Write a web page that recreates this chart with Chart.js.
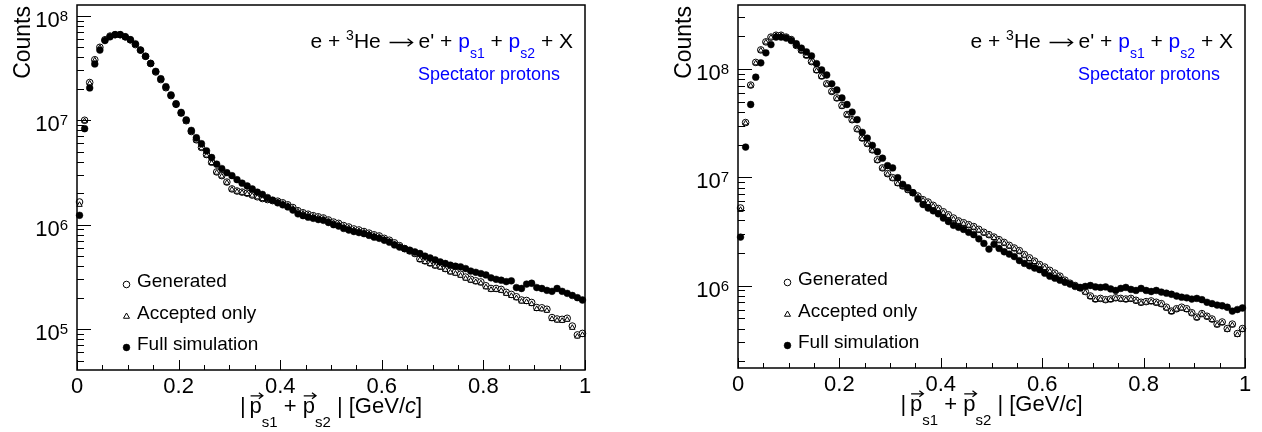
<!DOCTYPE html>
<html>
<head>
<meta charset="utf-8">
<script src="https://cdn.jsdelivr.net/npm/chart.js@4.4.1/dist/chart.umd.min.js"></script>
<style>
    html, body { margin: 0; padding: 0; background: #fff; }
    #wrap { position: relative; width: 1262px; height: 432px; }
    .panel { position: absolute; top: 0; width: 631px; height: 432px; }
</style>
</head>
<body>
<div id="wrap">
    <div class="panel" style="left:0"><canvas id="chartA" width="631" height="432"></canvas></div>
    <div class="panel" style="left:631px"><canvas id="chartB" width="631" height="432"></canvas></div>
</div>
<script>
// =======================
// DATOS (100 bins, 0 - 1 GeV/c)
// =======================

const N_BINS = 100;
const X_MIN = 0;
const X_MAX = 1;

const xTickValues = [0, 0.2, 0.4, 0.6, 0.8, 1];
const xTickLabels = ["0", "0.2", "0.4", "0.6", "0.8", "1"];
const xMinorStep = 0.05;

const leftYRange = [4.06e4, 1.27e8];
const leftYExponents = [5, 6, 7, 8];
const rightYRange = [1.73e5, 3.9e8];
const rightYExponents = [6, 7, 8];

const seriesLabels = ["Generated", "Accepted only", "Full simulation"];

const leftGenerated = [
    1.65e6, 1.0e7, 2.3e7, 3.8e7, 5.0e7, 5.9e7, 6.4e7, 6.6e7, 6.6e7, 6.3e7,
    5.9e7, 5.3e7, 4.7e7, 4.1e7, 3.5e7, 2.9e7, 2.45e7, 2.05e7, 1.72e7, 1.42e7,
    1.17e7, 9.9e6, 7.8e6, 6.5e6, 5.5e6, 4.7e6, 3.96e6, 3.2e6, 2.95e6, 2.56e6,
    2.2e6, 2.1e6, 2.05e6, 2.0e6, 1.92e6, 1.85e6, 1.78e6, 1.74e6, 1.7e6, 1.68e6,
    1.62e6, 1.55e6, 1.46e6, 1.36e6, 1.3e6, 1.26e6, 1.22e6, 1.19e6, 1.16e6, 1.11e6,
    1.06e6, 1.03e6, 9.8e5, 9.5e5, 9.1e5, 8.9e5, 8.6e5, 8.3e5, 8.0e5, 7.8e5,
    7.4e5, 7.1e5, 6.7e5, 6.3e5, 5.9e5, 5.6e5, 5.3e5, 4.7e5, 4.5e5, 4.3e5,
    4.1e5, 4.0e5, 3.8e5, 3.6e5, 3.5e5, 3.35e5, 3.15e5, 3.0e5, 2.9e5, 2.83e5,
    2.6e5, 2.45e5, 2.45e5, 2.4e5, 2.25e5, 2.15e5, 2.04e5, 1.9e5, 1.88e5, 1.8e5,
    1.61e5, 1.6e5, 1.55e5, 1.29e5, 1.25e5, 1.24e5, 1.27e5, 1.07e5, 8.8e4, 9.1e4
];

const leftAccepted = [
    1.55e6, 9.8e6, 2.25e7, 3.75e7, 4.95e7, 5.85e7, 6.35e7, 6.55e7, 6.55e7, 6.25e7,
    5.85e7, 5.25e7, 4.65e7, 4.05e7, 3.45e7, 2.88e7, 2.42e7, 2.02e7, 1.7e7, 1.4e7,
    1.15e7, 9.7e6, 7.7e6, 6.4e6, 5.4e6, 4.6e6, 3.9e6, 3.15e6, 2.9e6, 2.52e6,
    2.17e6, 2.07e6, 2.02e6, 1.97e6, 1.9e6, 1.83e6, 1.76e6, 1.72e6, 1.68e6, 1.65e6,
    1.59e6, 1.52e6, 1.43e6, 1.34e6, 1.28e6, 1.24e6, 1.2e6, 1.17e6, 1.14e6, 1.09e6,
    1.04e6, 1.01e6, 9.6e5, 9.3e5, 8.9e5, 8.7e5, 8.45e5, 8.15e5, 7.85e5, 7.65e5,
    7.25e5, 6.95e5, 6.55e5, 6.15e5, 5.8e5, 5.5e5, 5.2e5, 4.6e5, 4.4e5, 4.2e5,
    4.0e5, 3.9e5, 3.7e5, 3.5e5, 3.4e5, 3.25e5, 3.05e5, 2.92e5, 2.82e5, 2.75e5,
    2.52e5, 2.38e5, 2.38e5, 2.33e5, 2.18e5, 2.08e5, 1.98e5, 1.84e5, 1.82e5, 1.74e5,
    1.56e5, 1.55e5, 1.5e5, 1.25e5, 1.21e5, 1.2e5, 1.23e5, 1.03e5, 8.5e4, 8.8e4
];

const leftFull = [
    1.23e6, 8.3e6, 2.04e7, 3.46e7, 4.7e7, 5.8e7, 6.3e7, 6.6e7, 6.6e7, 6.3e7,
    5.9e7, 5.4e7, 4.7e7, 4.1e7, 3.5e7, 2.94e7, 2.5e7, 2.1e7, 1.75e7, 1.44e7,
    1.19e7, 1.01e7, 8.0e6, 6.8e6, 5.96e6, 5.1e6, 4.4e6, 3.8e6, 3.45e6, 3.15e6,
    2.95e6, 2.7e6, 2.5e6, 2.35e6, 2.2e6, 2.05e6, 1.95e6, 1.82e6, 1.72e6, 1.62e6,
    1.55e6, 1.48e6, 1.38e6, 1.27e6, 1.22e6, 1.18e6, 1.15e6, 1.12e6, 1.1e6, 1.05e6,
    1.0e6, 9.7e5, 9.2e5, 8.9e5, 8.6e5, 8.4e5, 8.2e5, 7.9e5, 7.6e5, 7.4e5,
    7.1e5, 6.8e5, 6.4e5, 6.1e5, 5.9e5, 5.7e5, 5.5e5, 5.3e5, 5.0e5, 4.8e5,
    4.6e5, 4.4e5, 4.25e5, 4.1e5, 4.0e5, 3.95e5, 3.8e5, 3.6e5, 3.5e5, 3.4e5,
    3.3e5, 3.1e5, 3.0e5, 2.94e5, 2.85e5, 2.9e5, 2.5e5, 2.45e5, 2.7e5, 2.75e5,
    2.5e5, 2.45e5, 2.35e5, 2.3e5, 2.45e5, 2.3e5, 2.2e5, 2.1e5, 2.0e5, 1.9e5
];

const rightGenerated = [
    5.2e6, 3.2e7, 7.1e7, 1.15e8, 1.5e8, 1.78e8, 1.97e8, 2.05e8, 2.05e8, 1.97e8,
    1.87e8, 1.65e8, 1.49e8, 1.34e8, 1.17e8, 9.8e7, 8.6e7, 7.3e7, 6.2e7, 5.4e7,
    4.6e7, 3.8e7, 3.4e7, 2.8e7, 2.3e7, 2.05e7, 1.79e7, 1.45e7, 1.22e7, 1.08e7,
    9.9e6, 8.9e6, 8.3e6, 7.7e6, 7.2e6, 6.7e6, 6.2e6, 5.9e6, 5.5e6, 5.15e6,
    4.8e6, 4.5e6, 4.2e6, 3.95e6, 3.8e6, 3.65e6, 3.5e6, 3.3e6, 3.1e6, 2.95e6,
    2.8e6, 2.65e6, 2.5e6, 2.35e6, 2.22e6, 2.1e6, 1.93e6, 1.8e6, 1.68e6, 1.56e6,
    1.48e6, 1.38e6, 1.3e6, 1.22e6, 1.12e6, 1.05e6, 1.0e6, 9.5e5, 8.8e5, 8.0e5,
    7.5e5, 7.6e5, 7.4e5, 7.5e5, 7.7e5, 7.6e5, 7.5e5, 7.6e5, 7.3e5, 7.0e5,
    7.1e5, 7.2e5, 7.0e5, 6.8e5, 6.3e5, 5.8e5, 6.1e5, 6.3e5, 6.1e5, 5.6e5,
    5.1e5, 5.5e5, 5.2e5, 4.9e5, 4.4e5, 4.6e5, 4.0e5, 4.4e5, 3.6e5, 4.0e5
];

const rightAccepted = [
    5.0e6, 3.15e7, 7.0e7, 1.13e8, 1.48e8, 1.76e8, 1.95e8, 2.03e8, 2.03e8, 1.95e8,
    1.85e8, 1.63e8, 1.47e8, 1.32e8, 1.15e8, 9.6e7, 8.45e7, 7.2e7, 6.1e7, 5.3e7,
    4.5e7, 3.75e7, 3.35e7, 2.75e7, 2.26e7, 2.01e7, 1.76e7, 1.42e7, 1.2e7, 1.06e7,
    9.7e6, 8.7e6, 8.15e6, 7.55e6, 7.05e6, 6.55e6, 6.1e6, 5.8e6, 5.4e6, 5.05e6,
    4.7e6, 4.4e6, 4.1e6, 3.88e6, 3.72e6, 3.58e6, 3.43e6, 3.23e6, 3.04e6, 2.9e6,
    2.75e6, 2.6e6, 2.45e6, 2.3e6, 2.18e6, 2.06e6, 1.89e6, 1.76e6, 1.65e6, 1.53e6,
    1.45e6, 1.35e6, 1.27e6, 1.2e6, 1.1e6, 1.03e6, 9.8e5, 9.3e5, 8.6e5, 7.85e5,
    7.35e5, 7.45e5, 7.25e5, 7.35e5, 7.55e5, 7.45e5, 7.35e5, 7.45e5, 7.15e5, 6.85e5,
    6.95e5, 7.05e5, 6.85e5, 6.65e5, 6.15e5, 5.7e5, 6.0e5, 6.15e5, 5.95e5, 5.5e5,
    5.0e5, 5.4e5, 5.1e5, 4.8e5, 4.3e5, 4.5e5, 3.9e5, 4.3e5, 3.5e5, 3.9e5
];

const rightFull = [
    2.8e6, 1.9e7, 4.7e7, 8.4e7, 1.14e8, 1.41e8, 1.68e8, 1.97e8, 1.97e8, 1.93e8,
    1.83e8, 1.71e8, 1.56e8, 1.44e8, 1.32e8, 1.12e8, 9.8e7, 8.8e7, 7.3e7, 6.4e7,
    5.4e7, 4.7e7, 4.0e7, 3.4e7, 2.6e7, 2.3e7, 1.97e7, 1.72e7, 1.5e7, 1.28e7,
    1.22e7, 9.9e6, 8.6e6, 8.0e6, 7.2e6, 6.3e6, 5.6e6, 5.2e6, 4.9e6, 4.6e6,
    4.2e6, 3.9e6, 3.6e6, 3.45e6, 3.3e6, 3.1e6, 2.95e6, 2.7e6, 2.45e6, 2.17e6,
    2.4e6, 2.2e6, 2.05e6, 1.95e6, 1.85e6, 1.7e6, 1.6e6, 1.52e6, 1.45e6, 1.4e6,
    1.3e6, 1.22e6, 1.17e6, 1.12e6, 1.07e6, 1.03e6, 9.8e5, 9.6e5, 9.8e5, 1.0e6,
    9.7e5, 9.6e5, 9.7e5, 9.3e5, 9.0e5, 9.4e5, 9.6e5, 9.2e5, 9.0e5, 9.4e5,
    9.0e5, 8.8e5, 9.0e5, 8.7e5, 8.5e5, 8.3e5, 8.0e5, 7.8e5, 7.7e5, 7.5e5,
    7.6e5, 7.4e5, 7.0e5, 6.8e5, 6.6e5, 6.5e5, 6.3e5, 5.8e5, 6.0e5, 6.2e5
];

// =======================
// ESTILO
// =======================

const FONT = "'Liberation Sans', Arial, Helvetica, sans-serif";
const BLUE = "#0000ff";

const binWidth = (X_MAX - X_MIN) / N_BINS;
const binCenters = Array.from({ length: N_BINS }, (_, i) => X_MIN + (i + 0.5) * binWidth);

function toPoints(values) {
    return values.map((v, i) => ({ x: binCenters[i], y: v }));
}

function setFont(ctx, size, italic) {
    ctx.font = (italic ? "italic " : "") + size + "px " + FONT;
}

function arrowLine(ctx, x0, x1, y, head) {
    ctx.strokeStyle = "#000";
    ctx.lineWidth = 1.3;
    ctx.beginPath();
    ctx.moveTo(x0, y); ctx.lineTo(x1, y);
    ctx.moveTo(x1 - head, y - head * 0.75); ctx.lineTo(x1, y); ctx.lineTo(x1 - head, y + head * 0.75);
    ctx.stroke();
}

// dibuja una fila de segmentos tipo TLatex (sub/superíndices, flechas)
function drawSegments(ctx, segs, x, baseline, align) {
    let total = 0;
    segs.forEach(s => {
        setFont(ctx, s.size, s.italic);
        s.w = s.gap !== undefined ? s.gap : ctx.measureText(s.t).width;
        total += s.w;
    });
    let cx = align === "right" ? x - total : align === "center" ? x - total / 2 : x;
    ctx.textAlign = "left";
    ctx.textBaseline = "alphabetic";
    segs.forEach(s => {
        if (s.gap === undefined) {
            setFont(ctx, s.size, s.italic);
            ctx.fillStyle = s.color || "#000";
            ctx.fillText(s.t, cx, baseline + (s.dy || 0));
            if (s.arrow) {
                arrowLine(ctx, cx + 1, cx + s.w + 1, baseline - s.size * 0.78, 4);
            }
        } else if (s.rightArrow) {
            arrowLine(ctx, cx + 3, cx + s.w - 6, baseline - 5.5, 5);
        }
        cx += s.w;
    });
}

function drawMarker(ctx, ds, x, y) {
    ctx.save();
    ctx.fillStyle = ds.backgroundColor;
    ctx.strokeStyle = ds.borderColor;
    ctx.lineWidth = ds.borderWidth;
    ctx.beginPath();
    if (ds.pointStyle === "triangle") {
        const r = ds.pointRadius + 0.4;
        ctx.moveTo(x, y - r);
        ctx.lineTo(x + r * 0.866, y + r * 0.5);
        ctx.lineTo(x - r * 0.866, y + r * 0.5);
        ctx.closePath();
    } else {
        ctx.arc(x, y, ds.pointRadius, 0, Math.PI * 2);
    }
    ctx.fill();
    ctx.stroke();
    ctx.restore();
}

const rootFrame = {
    id: "rootFrame",
    afterDatasetsDraw(chart, args, opts) {
        const { ctx, chartArea: a, scales } = chart;
        const xs = scales.x, ys = scales.y;
        ctx.save();

        // marco
        ctx.strokeStyle = "#000";
        ctx.lineWidth = 1.5;
        ctx.strokeRect(a.left, a.top, a.right - a.left, a.bottom - a.top);

        // ticks eje x (hacia adentro)
        ctx.lineWidth = 1;
        const nMinor = Math.round((X_MAX - X_MIN) / xMinorStep);
        for (let k = 0; k <= nMinor; k++) {
            const px = Math.round(xs.getPixelForValue(X_MIN + k * xMinorStep)) + 0.5;
            const len = k % 4 === 0 ? 10 : 5;
            ctx.beginPath();
            ctx.moveTo(px, a.bottom);
            ctx.lineTo(px, a.bottom - len);
            ctx.stroke();
        }

        // ticks eje y logarítmico
        const dMin = Math.floor(Math.log10(ys.min));
        const dMax = Math.ceil(Math.log10(ys.max));
        for (let d = dMin; d <= dMax; d++) {
            for (let m = 1; m <= 9; m++) {
                const v = m * Math.pow(10, d);
                if (v < ys.min || v > ys.max) continue;
                const py = Math.round(ys.getPixelForValue(v)) + 0.5;
                const len = m === 1 ? 14 : 7;
                ctx.beginPath();
                ctx.moveTo(a.left, py);
                ctx.lineTo(a.left + len, py);
                ctx.stroke();
            }
        }

        // etiquetas eje x
        ctx.fillStyle = "#000";
        setFont(ctx, 22);
        ctx.textAlign = "center";
        ctx.textBaseline = "alphabetic";
        xTickValues.forEach((v, i) => {
            ctx.fillText(xTickLabels[i], xs.getPixelForValue(v), a.bottom + 22.5);
        });

        // etiquetas eje y: 10^n
        opts.exponents.forEach(e => {
            const py = ys.getPixelForValue(Math.pow(10, e));
            drawSegments(ctx, [
                { t: "10", size: 22 },
                { t: String(e), size: 15, dy: -6 }
            ], a.left - 9, py + 11, "right");
        });

        // título eje y
        ctx.save();
        ctx.translate(a.left - 47, a.top + 1);
        ctx.rotate(-Math.PI / 2);
        setFont(ctx, 23);
        ctx.textAlign = "right";
        ctx.textBaseline = "alphabetic";
        ctx.fillStyle = "#000";
        ctx.fillText("Counts", 0, 0);
        ctx.restore();

        // título eje x
        drawSegments(ctx, [
            { t: "|", size: 22 },
            { gap: 4 },
            { t: "p", size: 22, arrow: true },
            { t: "s1", size: 15, dy: 14 },
            { t: " + ", size: 22 },
            { t: "p", size: 22, arrow: true },
            { t: "s2", size: 15, dy: 14 },
            { t: " | [GeV/", size: 22 },
            { t: "c", size: 22, italic: true },
            { t: "]", size: 22 }
        ], (a.left + a.right) / 2, a.bottom + 43, "center");

        // reacción y comentario
        drawSegments(ctx, [
            { t: "e + ", size: 21 },
            { t: "3", size: 14, dy: -8 },
            { t: "He ", size: 21 },
            { gap: 32, rightArrow: true },
            { t: "e' + ", size: 21 },
            { t: "p", size: 21, color: BLUE },
            { t: "s1", size: 14, dy: 10, color: BLUE },
            { t: " + ", size: 21 },
            { t: "p", size: 21, color: BLUE },
            { t: "s2", size: 14, dy: 10, color: BLUE },
            { t: " + X", size: 21 }
        ], a.right - 12, a.top + 43, "right");

        setFont(ctx, 18);
        ctx.fillStyle = BLUE;
        ctx.textAlign = "right";
        ctx.fillText("Spectator protons", a.right - 25, a.top + 75);

        // leyenda
        const rows = [a.bottom - 88, a.bottom - 56, a.bottom - 25];
        const order = [2, 1, 0];
        setFont(ctx, 19);
        ctx.textAlign = "left";
        ctx.textBaseline = "middle";
        order.forEach((di, r) => {
            const ds = chart.data.datasets[di];
            drawMarker(ctx, ds, a.left + 49.5, rows[r] + 2.5);
            ctx.fillStyle = "#000";
            ctx.fillText(ds.label, a.left + 60, rows[r]);
        });

        ctx.restore();
    }
};

function crearPanel(canvasId, generated, accepted, full, yRange, exponents, padding) {
    const ctx = document.getElementById(canvasId).getContext("2d");
    return new Chart(ctx, {
        type: "scatter",
        data: {
            datasets: [
                {
                    label: seriesLabels[2],
                    data: toPoints(full),
                    pointStyle: "circle",
                    pointRadius: 3.4,
                    backgroundColor: "#000",
                    borderColor: "#000",
                    borderWidth: 0.5,
                    order: 0,
                    clip: false
                },
                {
                    label: seriesLabels[1],
                    data: toPoints(accepted),
                    pointStyle: "triangle",
                    pointRadius: 3.1,
                    backgroundColor: "#fff",
                    borderColor: "#000",
                    borderWidth: 1,
                    order: 1,
                    clip: false
                },
                {
                    label: seriesLabels[0],
                    data: toPoints(generated),
                    pointStyle: "circle",
                    pointRadius: 3.3,
                    backgroundColor: "#fff",
                    borderColor: "#000",
                    borderWidth: 1,
                    order: 2,
                    clip: false
                }
            ]
        },
        options: {
            responsive: false,
            animation: false,
            events: [],
            layout: { padding: padding },
            scales: {
                x: { type: "linear", min: X_MIN, max: X_MAX, display: false },
                y: { type: "logarithmic", min: yRange[0], max: yRange[1], display: false }
            },
            plugins: {
                legend: { display: false },
                tooltip: { enabled: false },
                rootFrame: { exponents: exponents }
            }
        },
        plugins: [rootFrame]
    });
}

crearPanel("chartA", leftGenerated, leftAccepted, leftFull, leftYRange, leftYExponents,
    { left: 77, right: 46, top: 4, bottom: 62 });
crearPanel("chartB", rightGenerated, rightAccepted, rightFull, rightYRange, rightYExponents,
    { left: 107, right: 17, top: 3, bottom: 64 });
</script>
</body>
</html>
